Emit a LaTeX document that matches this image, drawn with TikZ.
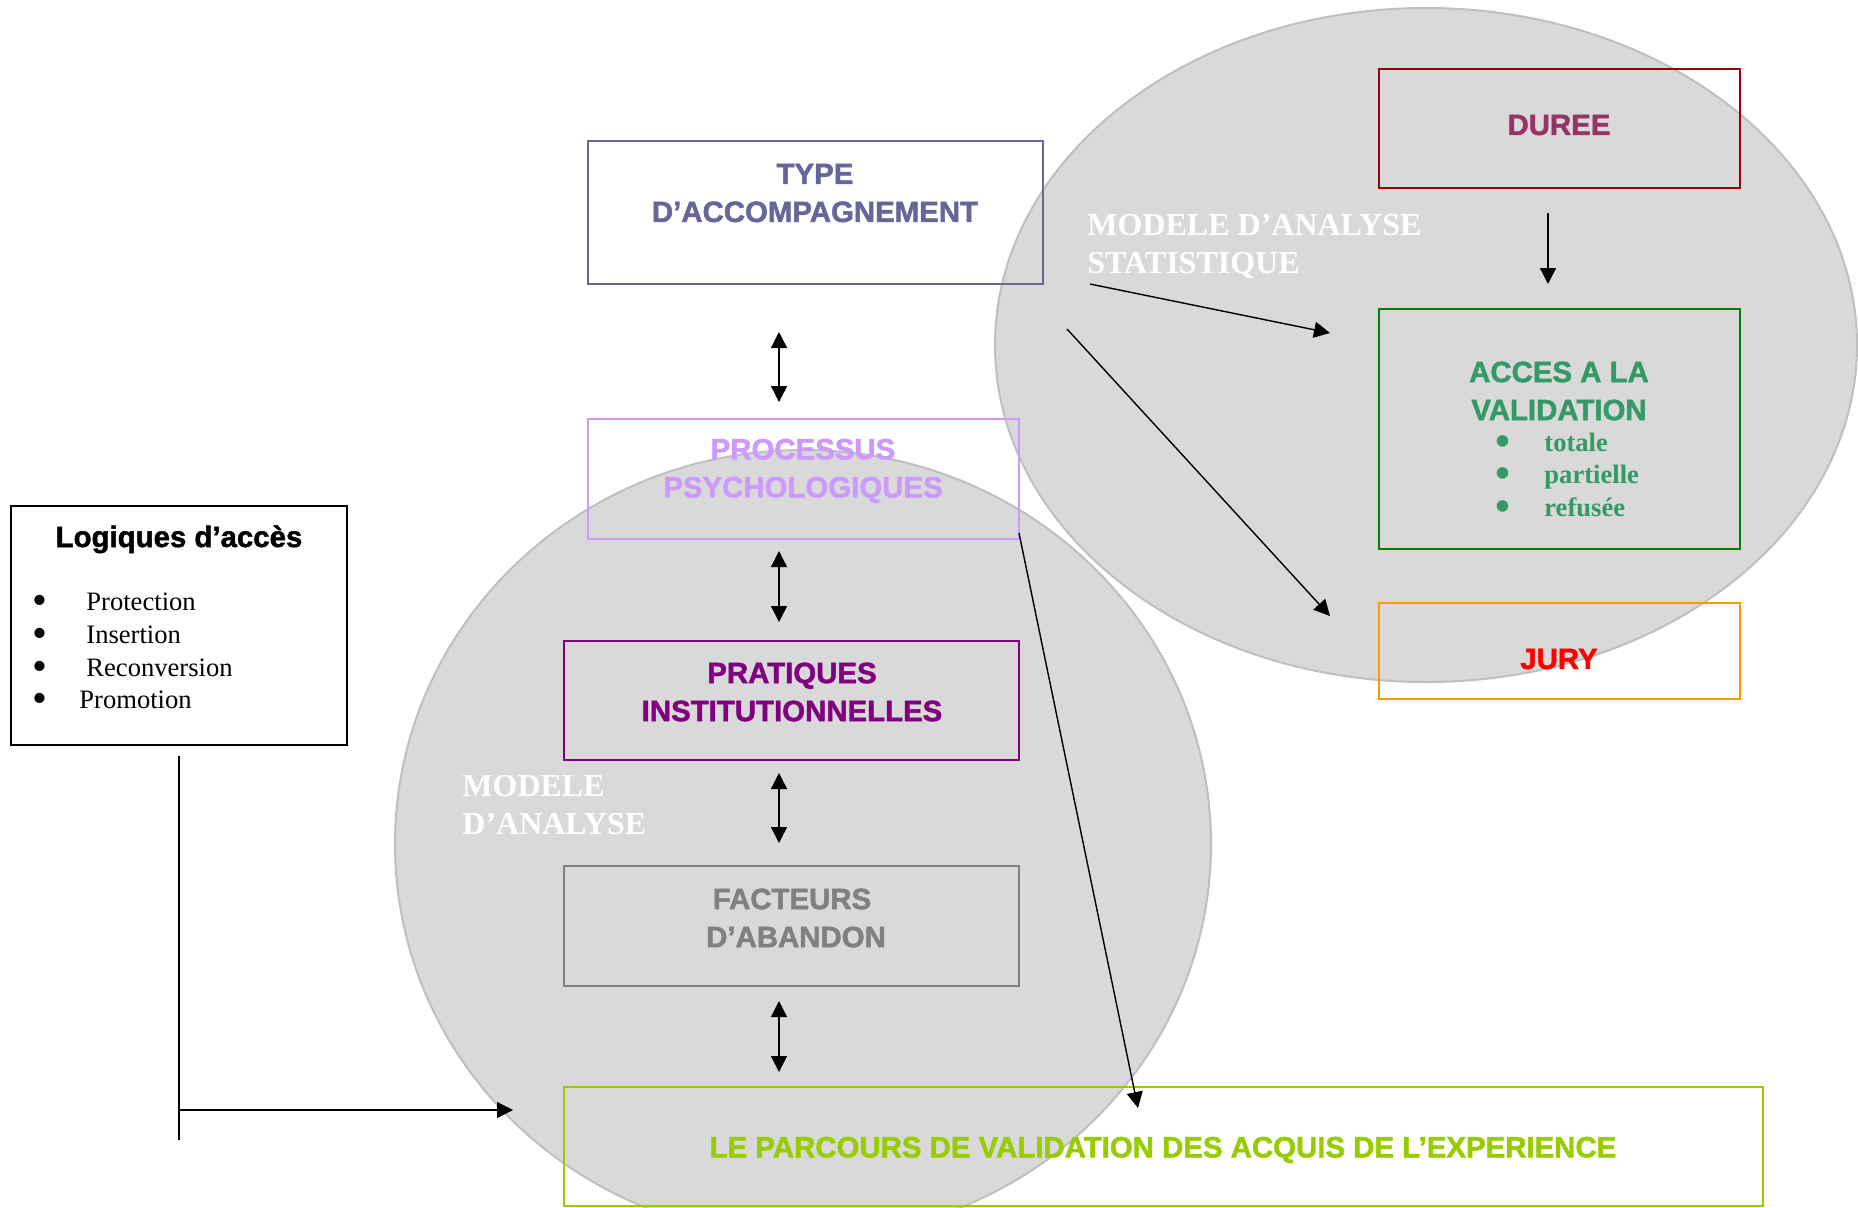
\documentclass[tikz,border=0pt]{standalone}
\usepackage{fontspec}
\setmainfont{Liberation Serif}
\setsansfont{Liberation Sans}[BoldFeatures={FakeBold=1.6}]
\usetikzlibrary{arrows.meta}
\definecolor{ellfill}{HTML}{D9D9D9}
\definecolor{ellline}{HTML}{BFBFBF}
\definecolor{typec}{HTML}{666699}
\definecolor{procc}{HTML}{CC99FF}
\definecolor{pratc}{HTML}{800080}
\definecolor{factc}{HTML}{808080}
\definecolor{parcc}{HTML}{99CC00}
\definecolor{durtc}{HTML}{993366}
\definecolor{durbc}{HTML}{990000}
\definecolor{accc}{HTML}{339966}
\definecolor{accb}{HTML}{008000}
\definecolor{juryb}{HTML}{FF9900}
\definecolor{juryt}{HTML}{FF0000}
\newcommand{\bigbul}{\raisebox{-2.3pt}[0pt][0pt]{\scalebox{1.6}{\textbullet}}}
\begin{document}
\begin{tikzpicture}[x=0.5pt,y=-0.5pt,
  box/.style={draw, line width=1pt, inner sep=0pt},
  ttl/.style={font=\sffamily\bfseries\fontsize{14.7pt}{19pt}\selectfont, align=center, inner sep=0pt},
  mdl/.style={font=\rmfamily\bfseries\fontsize{16pt}{19pt}\selectfont, text=white, align=left, inner sep=0pt, anchor=west},
  itm/.style={font=\rmfamily\fontsize{13.3pt}{16pt}\selectfont, inner sep=0pt, anchor=base west},
  arr/.style={-{Triangle[length=8pt,width=8pt]}, line width=0.7pt},
  dbl/.style={{Triangle[length=8pt,width=8pt]}-{Triangle[length=8pt,width=8pt]}, line width=0.7pt},
  ell/.style={fill=ellfill, draw=ellline, line width=1pt}]
\useasboundingbox (0,0) rectangle (1858,1207);
\fill[white] (0,0) rectangle (1858,1207);
\begin{scope}
\clip (0,0) rectangle (1858,1207);
\draw[ell] (803,844) ellipse [x radius=204pt, y radius=197pt];
\draw[ell] (1426,345) ellipse [x radius=215.5pt, y radius=168.5pt];
\end{scope}

% boxes
\node[box, draw=typec, minimum width=227.5pt, minimum height=71.5pt] (type) at (815.5,212.5) {};
\node[box, draw=procc, minimum width=215.5pt, minimum height=60pt] (proc) at (803.5,479) {};
\node[box, draw=pratc, minimum width=227.5pt, minimum height=59.5pt] (prat) at (791.5,700.5) {};
\node[box, draw=factc, minimum width=227.5pt, minimum height=60pt] (fact) at (791.5,926) {};
\node[box, draw=parcc, minimum width=599.5pt, minimum height=59.5pt] (parc) at (1163.5,1146.5) {};
\node[box, draw=black, minimum width=168pt, minimum height=119.5pt] (logi) at (179,625.5) {};
\node[box, draw=durbc, minimum width=180.5pt, minimum height=59.5pt] (duree) at (1559.5,128.5) {};
\node[box, draw=accb, minimum width=180.5pt, minimum height=120pt] (acces) at (1559.5,429) {};
\node[box, draw=juryb, minimum width=180.5pt, minimum height=48pt] (jury) at (1559.5,651) {};

% titles
\node[ttl, text=typec] (typet) at (815,193) {TYPE\\D’ACCOMPAGNEMENT};
\node[ttl, text=procc] (proct) at (803,471) {PROCESSUS\\PSYCHOLOGIQUES};
\node[ttl, text=pratc] (pratt) at (792,692) {PRATIQUES\\INSTITUTIONNELLES};
\node[ttl, text=factc] (factt) at (792,918) {FACTEURS\\\hspace*{4pt}D’ABANDON};
\node[ttl, text=parcc] (parct) at (1163,1150) {LE PARCOURS DE VALIDATION DES ACQUIS DE L’EXPERIENCE};
\node[ttl, text=durtc] (dureet) at (1559,125) {DUREE};
\node[ttl, text=juryt] (juryt) at (1559,659) {JURY};
\node[ttl, text=accc] (accest) at (1559,391) {ACCES A LA\\VALIDATION};
\node[ttl, text=black, anchor=base] (logit) at (179,547) {Logiques d’accès};

% lists
\node[itm, font=\rmfamily\bfseries\fontsize{13.3pt}{16pt}\selectfont, text=accc] (i1) at (1495,451) {\makebox[24.5pt][l]{\bigbul}totale};
\node[itm, font=\rmfamily\bfseries\fontsize{13.3pt}{16pt}\selectfont, text=accc] (i2) at (1495,483) {\makebox[24.5pt][l]{\bigbul}partielle};
\node[itm, font=\rmfamily\bfseries\fontsize{13.3pt}{16pt}\selectfont, text=accc] (i3) at (1495,516) {\makebox[24.5pt][l]{\bigbul}refusée};
\node[itm] (l1) at (32,610) {\makebox[27pt][l]{\bigbul}Protection};
\node[itm] (l2) at (32,643) {\makebox[27pt][l]{\bigbul}Insertion};
\node[itm] (l3) at (32,676) {\makebox[27pt][l]{\bigbul}Reconversion};
\node[itm] (l4) at (32,708) {\makebox[23.5pt][l]{\bigbul}Promotion};

% model labels
\node[mdl] (mstat) at (1087,246) {MODELE D’ANALYSE\\STATISTIQUE};
\node[mdl] (mana) at (462,805) {MODELE\\D’ANALYSE};

% arrow coordinates
\coordinate (a1) at (779,332); \coordinate (b1) at (779,402);
\coordinate (a2) at (779,551); \coordinate (b2) at (779,622);
\coordinate (a3) at (779,773); \coordinate (b3) at (779,843);
\coordinate (a4) at (779,1001); \coordinate (b4) at (779,1072);
\coordinate (d1) at (1548,213); \coordinate (d2) at (1548,284);
\coordinate (s1) at (1090,284); \coordinate (e1) at (1330,333);
\coordinate (s2) at (1067,329); \coordinate (e2) at (1330,616);
\coordinate (pc) at (1019,533); \coordinate (pe) at (1138,1108);
\coordinate (vt) at (179,756); \coordinate (vb) at (179,1140);
\coordinate (hs) at (179,1110); \coordinate (he) at (513,1110);

\draw[dbl] (a1) -- (b1);
\draw[dbl] (a2) -- (b2);
\draw[dbl] (a3) -- (b3);
\draw[dbl] (a4) -- (b4);
\draw[arr] (d1) -- (d2);
\draw[arr] (s1) -- (e1);
\draw[arr] (s2) -- (e2);
\draw[arr] (pc) -- (pe);
\draw[line width=0.7pt] (vt) -- (vb);
\draw[arr] (hs) -- (he);
\end{tikzpicture}
\end{document}
